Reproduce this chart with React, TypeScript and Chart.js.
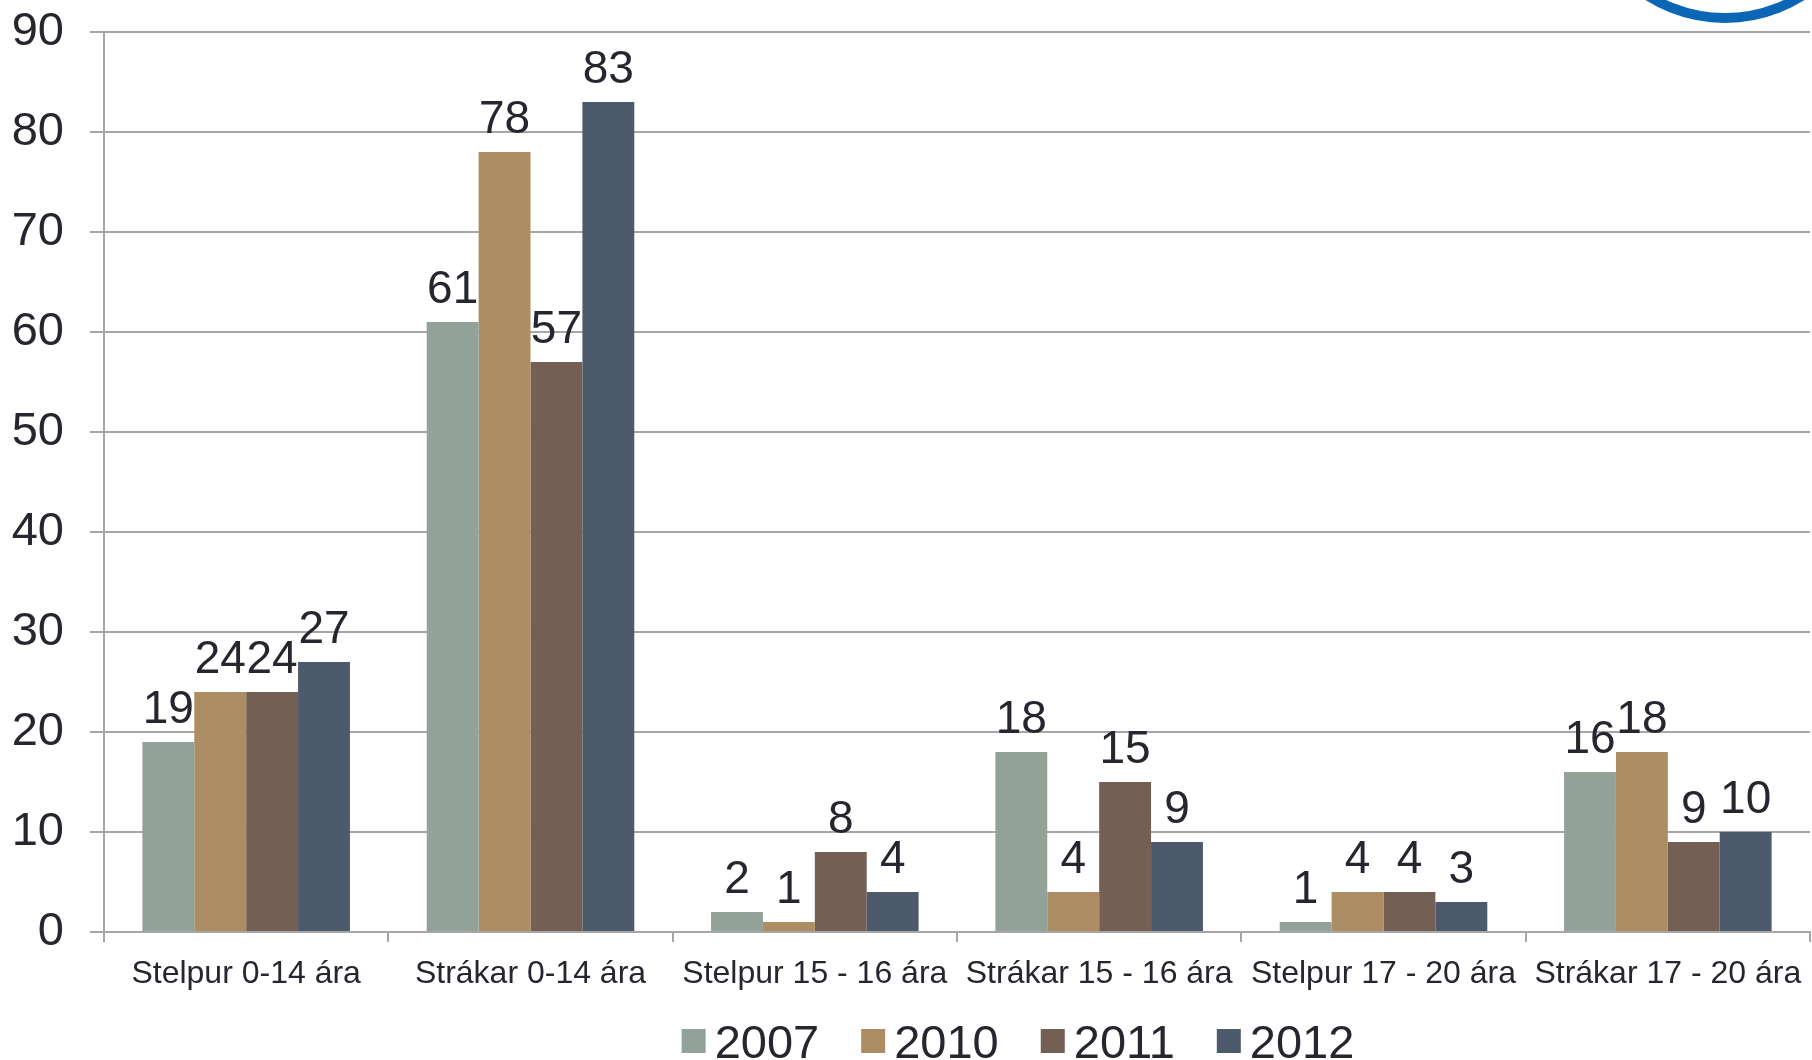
import React, { useEffect, useRef } from "react";
import { Chart, registerables } from "chart.js";

Chart.register(...registerables);

const categories = [
  "Stelpur 0-14 ára",
  "Strákar 0-14 ára",
  "Stelpur 15 - 16 ára",
  "Strákar 15 - 16 ára",
  "Stelpur 17 - 20 ára",
  "Strákar 17 - 20 ára",
];
const seriesNames = ["2007", "2010", "2011", "2012"];
const values2007 = [19, 61, 2, 18, 1, 16];
const values2010 = [24, 78, 1, 4, 4, 18];
const values2011 = [24, 57, 8, 15, 4, 9];
const values2012 = [27, 83, 4, 9, 3, 10];
const seriesColors = ["#93a298", "#ad8e64", "#735f53", "#4d5a6b"];
const yMin = 0;
const yMax = 90;
const yStep = 10;

const FONT = "'Liberation Sans', Arial, sans-serif";
const TEXT = "#26262f";
const GRID = "#a6a6a6";

const dataLabelPlugin = {
  id: "dataLabels",
  afterDatasetsDraw(chart: any) {
    const ctx = chart.ctx;
    ctx.save();
    ctx.font = `46px ${FONT}`;
    ctx.fillStyle = TEXT;
    ctx.textAlign = "center";
    ctx.textBaseline = "alphabetic";
    chart.data.datasets.forEach((ds: any, i: number) => {
      const meta = chart.getDatasetMeta(i);
      meta.data.forEach((el: any, j: number) => {
        ctx.fillText(String(ds.data[j]), el.x, el.y - 19);
      });
    });
    ctx.restore();
  },
};

const customLegendPlugin = {
  id: "customLegend",
  afterDraw(chart: any) {
    const ctx = chart.ctx;
    ctx.save();
    ctx.font = `47px ${FONT}`;
    ctx.textBaseline = "alphabetic";
    ctx.textAlign = "left";
    const box = 24;
    const gap = 9;
    const spacing = 42;
    const items = chart.data.datasets.map((ds: any) => ({
      label: ds.label,
      color: ds.backgroundColor,
      w: box + gap + ctx.measureText(ds.label).width,
    }));
    const total =
      items.reduce((s: number, it: any) => s + it.w, 0) + spacing * (items.length - 1);
    const centerX = chart.chartArea.left + 914;
    let x = centerX - total / 2;
    const baseY = 1058;
    items.forEach((it: any) => {
      ctx.fillStyle = it.color;
      ctx.fillRect(x, 1029, box, box);
      ctx.fillStyle = TEXT;
      ctx.fillText(it.label, x + box + gap, baseY);
      x += it.w + spacing;
    });
    ctx.restore();
  },
};

const logoPlugin = {
  id: "logoArc",
  afterDraw(chart: any) {
    const ctx = chart.ctx;
    ctx.save();
    ctx.strokeStyle = "#0b67b5";
    ctx.lineWidth = 10;
    ctx.beginPath();
    ctx.arc(1725, -126, 144, 0, Math.PI);
    ctx.stroke();
    ctx.restore();
  },
};

export default function App() {
  const canvasRef = useRef<HTMLCanvasElement | null>(null);

  useEffect(() => {
    const canvas = canvasRef.current;
    if (!canvas) return;
    const datasetsValues = [values2007, values2010, values2011, values2012];
    const chart = new Chart(canvas, {
      type: "bar",
      data: {
        labels: categories,
        datasets: seriesNames.map((name, i) => ({
          label: name,
          data: datasetsValues[i],
          backgroundColor: seriesColors[i],
          borderWidth: 0,
          barPercentage: 1,
          categoryPercentage: 0.73,
        })),
      },
      options: {
        responsive: false,
        animation: false,
        devicePixelRatio: 1,
        layout: { padding: { top: 32, right: 2, bottom: 0, left: 0 } },
        plugins: {
          legend: { display: false },
          tooltip: { enabled: false },
          title: { display: false },
        },
        scales: {
          x: {
            offset: true,
            grid: {
              display: true,
              drawOnChartArea: false,
              drawTicks: true,
              tickLength: 10,
              color: GRID,
              lineWidth: 2,
            },
            border: { display: true, color: GRID, width: 2 },
            ticks: {
              color: TEXT,
              font: { family: FONT, size: 32 },
              padding: 13,
              maxRotation: 0,
              minRotation: 0,
              autoSkip: false,
            },
            afterFit(axis: any) {
              axis.height = 128;
              axis.paddingLeft = 0;
              axis.paddingRight = 0;
            },
          },
          y: {
            min: yMin,
            max: yMax,
            ticks: {
              stepSize: yStep,
              color: TEXT,
              font: { family: FONT, size: 47 },
              padding: 26,
            },
            grid: {
              color: GRID,
              lineWidth: 2,
              tickLength: 14,
              drawTicks: true,
            },
            border: { display: true, color: GRID, width: 2 },
            afterFit(axis: any) {
              axis.width = 104;
              axis.paddingTop = 0;
              axis.paddingBottom = 0;
            },
          },
        },
      },
      plugins: [dataLabelPlugin, customLegendPlugin, logoPlugin],
    });
    return () => chart.destroy();
  }, []);

  return (
    <div
      style={{
        position: "absolute",
        left: 0,
        top: 0,
        width: 1812,
        height: 1060,
        background: "#ffffff",
      }}
    >
      <canvas ref={canvasRef} width={1812} height={1060} />
    </div>
  );
}
